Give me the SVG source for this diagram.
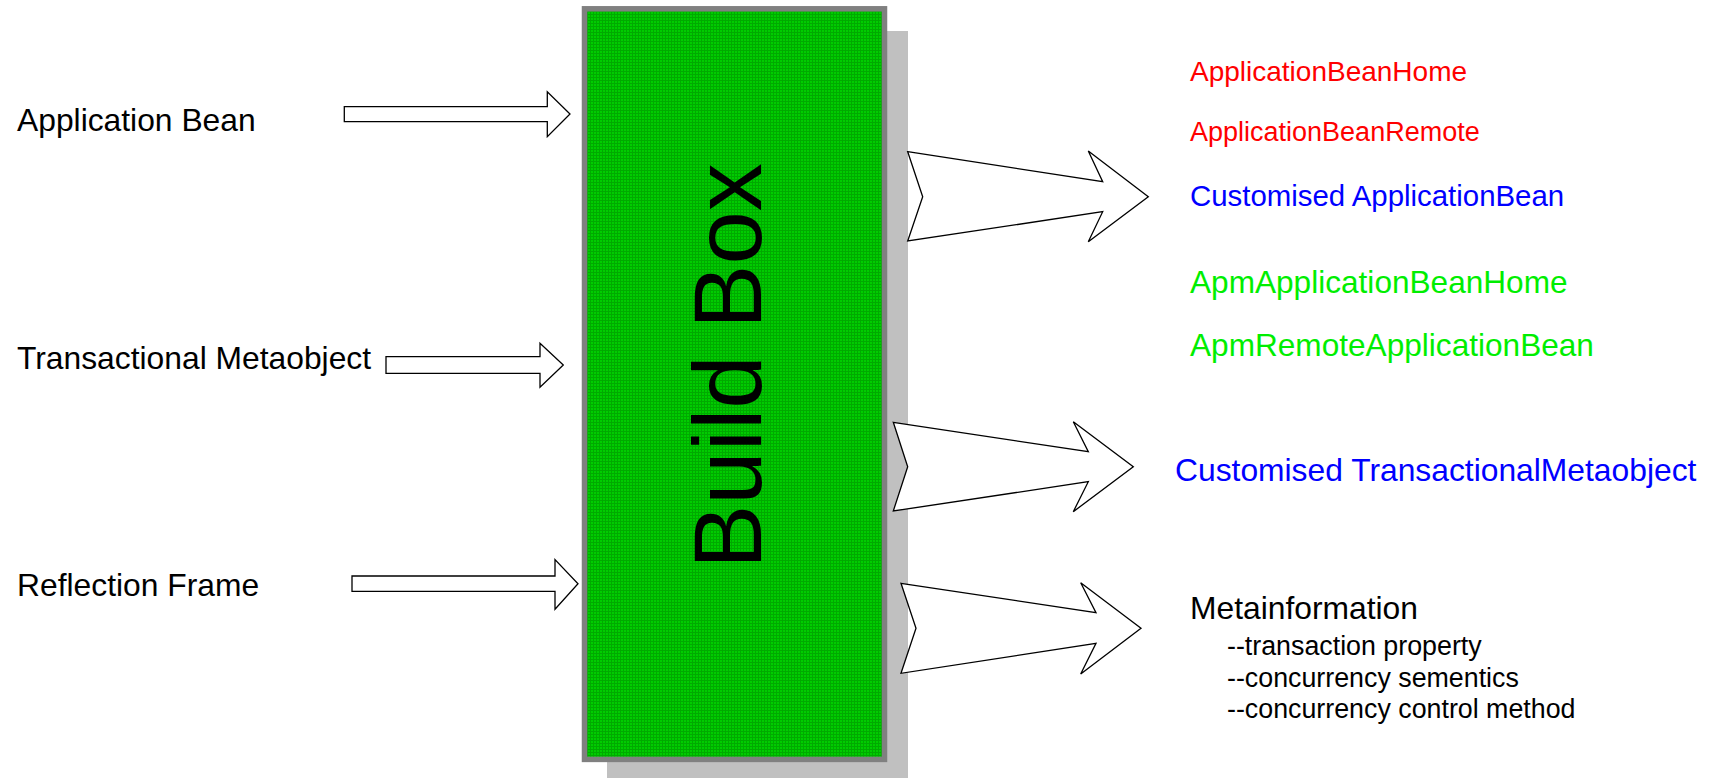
<svg xmlns="http://www.w3.org/2000/svg" width="1710" height="778" viewBox="0 0 1710 778">
  <defs>
    <!-- fine dotted green texture for the build box -->
    <pattern id="greenGrain" width="3" height="3" patternUnits="userSpaceOnUse">
      <rect width="3" height="3" fill="#00cc00"/>
      <rect x="0" y="2" width="3" height="1" fill="#00aa00"/>
      <rect x="2" y="0" width="1" height="3" fill="#00aa00"/>
    </pattern>
  </defs>
  <style>
    text { font-family: "Liberation Sans", Arial, sans-serif; }
    .label { font-size: 31.8px; fill: #000; }
    .sub { font-size: 26.8px; fill: #000; }
    .red { font-size: 28px; fill: #ff0000; }
    .blue { font-size: 30px; fill: #0000ff; }
    .green { font-size: 31.6px; fill: #00ee00; }
    .arrow { fill: #fff; stroke: #000; stroke-width: 1.3; stroke-linejoin: miter; }
  </style>
  <rect width="1710" height="778" fill="#fff"/>

  <!-- central build box with drop shadow -->
  <g id="build-box">
    <rect x="607" y="31" width="301" height="747" fill="#c0c0c0"/>
    <rect x="584.5" y="8.8" width="300" height="750.6" fill="url(#greenGrain)" stroke="#808080" stroke-width="5.5"/>
    <text transform="translate(761,366) rotate(-90)" text-anchor="middle" font-size="96" fill="#000">Build Box</text>
  </g>

  <!-- inputs -->
  <g id="in-application-bean">
    <text class="label" x="17" y="131">Application Bean</text>
  </g>
  <g id="in-transactional-metaobject">
    <text class="label" x="17" y="369">Transactional Metaobject</text>
  </g>
  <g id="in-reflection-frame">
    <text class="label" x="17" y="596">Reflection Frame</text>
  </g>

  <!-- outputs -->
  <g id="out-application-bean-home">
    <text class="red" x="1190" y="81">ApplicationBeanHome</text>
  </g>
  <g id="out-application-bean-remote">
    <text class="red" x="1190" y="141" style="font-size:27px">ApplicationBeanRemote</text>
  </g>
  <g id="out-customised-application-bean">
    <text class="blue" x="1190" y="206" style="font-size:29.4px">Customised ApplicationBean</text>
  </g>
  <g id="out-apm-application-bean-home">
    <text class="green" x="1190" y="293">ApmApplicationBeanHome</text>
  </g>
  <g id="out-apm-remote-application-bean">
    <text class="green" x="1190" y="356">ApmRemoteApplicationBean</text>
  </g>
  <g id="out-customised-transactional-metaobject">
    <text class="blue" x="1175" y="481" style="font-size:31.8px">Customised TransactionalMetaobject</text>
  </g>
  <g id="out-metainformation">
    <text class="label" x="1190" y="619">Metainformation</text>
    <text class="sub" x="1227" y="655">--transaction property</text>
    <text class="sub" x="1227" y="687">--concurrency sementics</text>
    <text class="sub" x="1227" y="718">--concurrency control method</text>
  </g>

  <!-- block arrows -->
  <g id="connectors">
    <polygon class="arrow" points="344.3,106.7 547.3,106.7 547.3,91.7 570,114 547.3,136.7 547.3,121.7 344.3,121.7"/>
    <polygon class="arrow" points="386,356.7 540,356.7 540,343.3 563.3,365 540,387.3 540,373.3 386,373.3"/>
    <polygon class="arrow" points="352,576 555,576 555,559.6 578,583.7 555,609.3 555,591.3 352,591.3"/>

    <polygon class="arrow" points="907.7,151.7 1102.7,181.7 1088.3,151 1148.3,196.7 1088.3,241.7 1102.7,211.7 907.7,241 922.7,196.7"/>
    <polygon class="arrow" points="893.3,422.3 1088.3,451.7 1073.3,421.7 1133.3,466.7 1073.3,511.7 1088.3,481.7 893.3,511 907.7,466.7"/>
    <polygon class="arrow" points="901,583.3 1096,612.7 1080.7,582.7 1141,628.3 1080.7,674 1096,643.3 901,673.3 916,628.3"/>
  </g>
</svg>
